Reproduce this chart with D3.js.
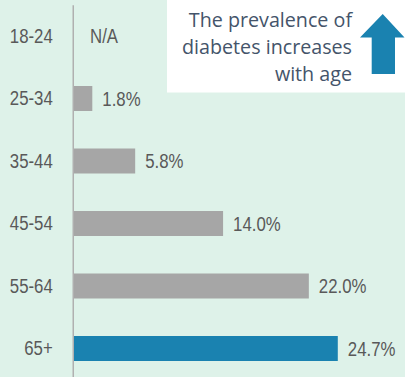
<!DOCTYPE html>
<html>
<head>
<meta charset="utf-8">
<script src="https://cdn.jsdelivr.net/npm/d3@7"></script>
<style>
  html, body { margin: 0; padding: 0; background: #def2e9; }
  svg { display: block; }
</style>
</head>
<body>
<svg id="chart" width="405" height="377"></svg>
<script>
// Diabetes prevalence by age group (percent); 18-24 has no estimate
const ageGroups = ["18-24", "25-34", "35-44", "45-54", "55-64", "65+"];
const prevalence = [null, 1.8, 5.8, 14.0, 22.0, 24.7];
const valueLabels = ["N/A", "1.8%", "5.8%", "14.0%", "22.0%", "24.7%"];
const highlightGroup = "65+";
const noteLines = ["The prevalence of", "diabetes increases", "with age"];

const W = 405, H = 377;
const narrow = 0.82; // horizontal squeeze for a condensed sans look
const labelFont = "'Liberation Sans', Arial, sans-serif";
const svg = d3.select("#chart");

svg.append("rect").attr("width", W).attr("height", H).attr("fill", "#def2e9");

const x = d3.scaleLinear().domain([0, 25]).range([73, 341]);
const y = d3.scaleBand().domain(ageGroups).range([4.75, 379.75]).paddingInner(0.6).paddingOuter(0.3);

const rows = ageGroups.map((g, i) => ({ group: g, value: prevalence[i], label: valueLabels[i] }));

// Bars
svg.append("g").selectAll("rect")
  .data(rows.filter(d => d.value !== null))
  .join("rect")
  .attr("x", x(0))
  .attr("y", d => y(d.group))
  .attr("width", d => x(d.value) - x(0))
  .attr("height", y.bandwidth())
  .attr("fill", d => d.group === highlightGroup ? "#1a82b0" : "#a6a6a6");

// Value labels
svg.append("g").selectAll("text")
  .data(rows)
  .join("text")
  .attr("transform", d => {
    const tx = d.value === null ? x(0) + 17 : x(d.value) + 10;
    const ty = y(d.group) + y.bandwidth() / 2;
    return `translate(${tx},${ty}) scale(${narrow},1)`;
  })
  .attr("dy", "0.35em")
  .attr("font-family", labelFont)
  .attr("font-size", 20.5)
  .attr("fill", "#595959")
  .text(d => d.label);

// Category axis
const pad = 20;
const axis = svg.append("g")
  .attr("transform", "translate(72.75,0)")
  .call(d3.axisLeft(y).tickSize(0).tickSizeOuter(0).tickPadding(pad));
axis.select(".domain").attr("stroke", "#b0b0b0").attr("stroke-width", 1.5);
axis.selectAll("text")
  .attr("x", -pad / narrow)
  .attr("transform", `scale(${narrow},1)`)
  .attr("font-family", labelFont)
  .attr("font-size", 20.5)
  .attr("fill", "#595959");

// Annotation box with up arrow
const note = svg.append("g");
note.append("rect").attr("x", 167).attr("y", 0).attr("width", W - 167).attr("height", 92.5).attr("fill", "#ffffff");
note.selectAll("text")
  .data(noteLines)
  .join("text")
  .attr("x", 352)
  .attr("y", (d, i) => 27 + i * 27)
  .attr("text-anchor", "end")
  .attr("font-family", "'Open Sans', sans-serif")
  .attr("font-size", 19.7)
  .attr("fill", "#44546a")
  .text(d => d);

const arrow = d3.path();
arrow.moveTo(382.7, 14);
arrow.lineTo(404.5, 37.5);
arrow.lineTo(395, 37.5);
arrow.lineTo(395, 74);
arrow.lineTo(371.7, 74);
arrow.lineTo(371.7, 37.5);
arrow.lineTo(360, 37.5);
arrow.closePath();
note.append("path").attr("d", arrow.toString()).attr("fill", "#1a82b0");
</script>
</body>
</html>
